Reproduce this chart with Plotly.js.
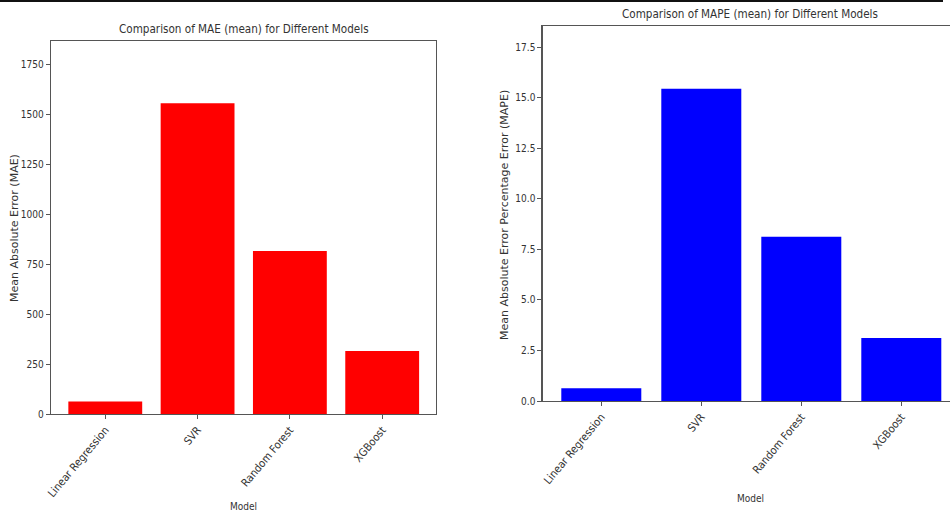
<!DOCTYPE html>
<html>
<head>
<meta charset="utf-8">
<script src="https://cdn.plot.ly/plotly-3.0.1.min.js"></script>
<style>html,body{margin:0;padding:0;background:#fff;}#chart{width:950px;height:513px;}</style>
</head>
<body>
<div id="chart"></div>
<script>
const models = ["Linear Regression", "SVR", "Random Forest", "XGBoost"];
const maeValues = [62, 1555, 816, 315];
const mapeValues = [0.63, 15.44, 8.12, 3.12];
const maeTicks = [0, 250, 500, 750, 1000, 1250, 1500, 1750];
const mapeTicks = [0, 2.5, 5, 7.5, 10, 12.5, 15, 17.5];
const mapeTickText = ["0.0", "2.5", "5.0", "7.5", "10.0", "12.5", "15.0", "17.5"];

const FONT = "DejaVu Sans Condensed, Liberation Sans Narrow, DejaVu Sans, sans-serif";
const FONT_Y = "DejaVu Sans, sans-serif";
const TXT = "#333";
const LINE = "#555";

const W = 950, H = 513;
const px = x => x / W;
const py = y => 1 - y / H;

const traces = [
  {type: "bar", x: models, y: maeValues, xaxis: "x", yaxis: "y", width: 0.8,
   marker: {color: "#ff0000", line: {width: 0}}, hoverinfo: "x+y"},
  {type: "bar", x: models, y: mapeValues, xaxis: "x2", yaxis: "y2", width: 0.8,
   marker: {color: "#0000ff", line: {width: 0}}, hoverinfo: "x+y"}
];

const axCommon = {
  showgrid: false, zeroline: false, showline: true, linecolor: LINE, linewidth: 1.3,
  ticks: "outside", ticklen: 4, tickcolor: LINE, tickwidth: 1,
  tickfont: {family: FONT, size: 10, color: TXT}
};
const xTickFont = {family: FONT, size: 11, color: TXT};

const layout = {
  width: W, height: H,
  margin: {l: 0, r: 0, t: 0, b: 0},
  paper_bgcolor: "#fff", plot_bgcolor: "#fff",
  showlegend: false,
  bargap: 0.2,
  xaxis: Object.assign({}, axCommon, {
    domain: [px(51), px(436)], anchor: "y", type: "category",
    range: [-0.588, 3.583], mirror: true, tickangle: -50, tickfont: xTickFont
  }),
  yaxis: Object.assign({}, axCommon, {
    domain: [py(414), py(41)], anchor: "x",
    range: [0, 1866], tickvals: maeTicks, mirror: true
  }),
  xaxis2: Object.assign({}, axCommon, {
    domain: [px(542.7), 1], anchor: "y2", type: "category",
    range: [-0.586, 3.487], mirror: true, tickangle: -50, tickfont: xTickFont
  }),
  yaxis2: Object.assign({}, axCommon, {
    domain: [py(401), py(26.3)], anchor: "x2",
    range: [0, 18.53], tickvals: mapeTicks, ticktext: mapeTickText, mirror: false
  }),
  annotations: [
    {text: "Comparison of MAE (mean) for Different Models", xref: "paper", yref: "paper",
     x: px(243.5), y: py(29), xanchor: "center", yanchor: "middle", showarrow: false,
     font: {family: FONT, size: 11.6, color: TXT}},
    {text: "Comparison of MAPE (mean) for Different Models", xref: "paper", yref: "paper",
     x: px(750), y: py(14), xanchor: "center", yanchor: "middle", showarrow: false,
     font: {family: FONT, size: 11.6, color: TXT}},
    {text: "Mean Absolute Error (MAE)", xref: "paper", yref: "paper",
     x: px(14), y: py(228), xanchor: "center", yanchor: "middle", showarrow: false, textangle: -90,
     font: {family: FONT_Y, size: 11, color: TXT}},
    {text: "Mean Absolute Error Percentage Error (MAPE)", xref: "paper", yref: "paper",
     x: px(505), y: py(215), xanchor: "center", yanchor: "middle", showarrow: false, textangle: -90,
     font: {family: FONT_Y, size: 11, color: TXT}},
    {text: "Model", xref: "paper", yref: "paper",
     x: px(243.5), y: py(506), xanchor: "center", yanchor: "middle", showarrow: false,
     font: {family: FONT, size: 10, color: TXT}},
    {text: "Model", xref: "paper", yref: "paper",
     x: px(750), y: py(498), xanchor: "center", yanchor: "middle", showarrow: false,
     font: {family: FONT, size: 10, color: TXT}}
  ],
  shapes: [
    {type: "line", xref: "paper", yref: "paper", x0: 0, x1: px(943), y0: py(1), y1: py(1),
     line: {color: "#111", width: 2}}
  ]
};

Plotly.newPlot("chart", traces, layout, {displayModeBar: false, staticPlot: true});
</script>
</body>
</html>
